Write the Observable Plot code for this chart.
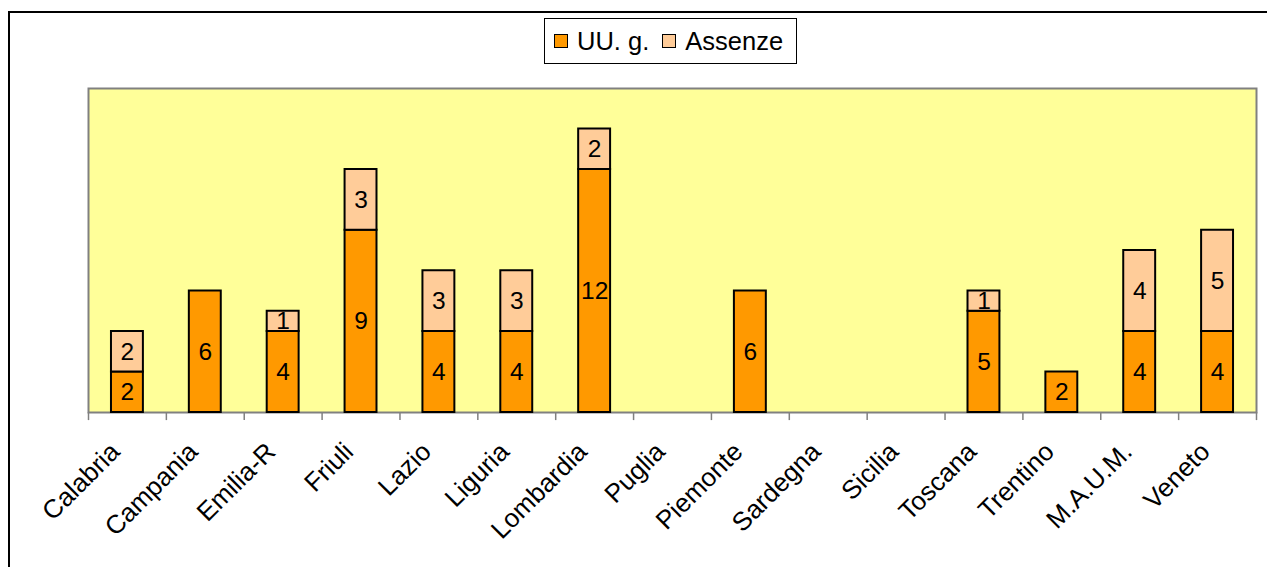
<!DOCTYPE html>
<html>
<head>
<meta charset="utf-8">
<script src="https://cdn.jsdelivr.net/npm/d3@7"></script>
<script src="https://cdn.jsdelivr.net/npm/@observablehq/plot@0.6"></script>
<style>
  html, body { margin: 0; padding: 0; background: #fff; }
  #wrap { position: relative; width: 1267px; height: 567px; overflow: hidden; font-family: "Liberation Sans", Arial, sans-serif; }
  #frame { position: absolute; left: 8px; top: 11px; width: 1400px; height: 700px; border-top: 2px solid #000; border-left: 2px solid #000; box-sizing: border-box; pointer-events: none; }
  #legend { position: absolute; left: 544px; top: 18px; width: 253px; height: 46px; box-sizing: border-box; border: 1.5px solid #000; background: #fff; display: flex; align-items: center; font-size: 25.5px; color: #000; }
  .sw { display: inline-block; width: 12px; height: 12px; border: 1.5px solid #000; margin-left: 9px; margin-right: 9px; }
  svg { position: absolute; left: 0; top: 0; }
</style>
</head>
<body>
<div id="wrap">
  <div id="chart"></div>
  <div id="frame"></div>
  <div id="legend"></div>
</div>
<script>
const categories = ["Calabria","Campania","Emilia-R","Friuli","Lazio","Liguria","Lombardia","Puglia","Piemonte","Sardegna","Sicilia","Toscana","Trentino","M.A.U.M.","Veneto"];
const seriesNames = ["UU. g.", "Assenze"];
const uug     = [2, 6, 4, 9, 4, 4, 12, 0, 6, 0, 0, 5, 2, 4, 4];
const assenze = [2, 0, 1, 3, 3, 3, 2, 0, 0, 0, 0, 1, 0, 4, 5];
const colors = ["#FF9900", "#FFCC99"];

const rows = [];
categories.forEach((c, i) => {
  rows.push({cat: c, series: seriesNames[0], value: uug[i]});
  rows.push({cat: c, series: seriesNames[1], value: assenze[i]});
});
const data = rows.filter(d => d.value > 0);

const W = 1267, H = 567;
const mL = 88, mR = 11, mT = 88, mB = 155;
const step = (W - mL - mR) / categories.length;

const chart = Plot.plot({
  width: W, height: H,
  marginLeft: mL, marginRight: mR, marginTop: mT, marginBottom: mB,
  style: {fontFamily: "'Liberation Sans', Arial, sans-serif", background: "transparent", overflow: "visible"},
  x: {domain: categories, paddingInner: 0.59, paddingOuter: 0.295, round: false, label: null, axis: null},
  y: {domain: [0, 16], axis: null},
  color: {domain: seriesNames, range: colors},
  marks: [
    Plot.frame({fill: "#FFFF99", stroke: "#808080", strokeWidth: 2}),
    Plot.ruleX(categories, {x: d => d, y1: 0, y2: -0.4, dx: -step / 2, stroke: "#808080", strokeWidth: 1.5}),
    Plot.ruleX([categories[categories.length - 1]], {x: d => d, y1: 0, y2: -0.4, dx: step / 2, stroke: "#808080", strokeWidth: 1.5}),
    Plot.barY(data, Plot.stackY({x: "cat", y: "value", fill: "series", order: seriesNames, stroke: "#000", strokeWidth: 2})),
    Plot.text(data, Plot.stackY({x: "cat", y: "value", z: "series", order: seriesNames, text: d => String(d.value), fontSize: 24.5, fill: "#000"})),
    Plot.axisX({tickSize: 0, tickRotate: -45, tickPadding: 35, dx: -12, fontSize: 26, fill: "#000", label: null})
  ]
});
document.getElementById("chart").appendChild(chart);

const legend = document.getElementById("legend");
seriesNames.forEach((s, i) => {
  const sw = document.createElement("span");
  sw.className = "sw";
  sw.style.background = colors[i];
  if (i > 0) sw.style.marginLeft = "13px";
  legend.appendChild(sw);
  const t = document.createElement("span");
  t.textContent = s;
  legend.appendChild(t);
});
</script>
</body>
</html>
